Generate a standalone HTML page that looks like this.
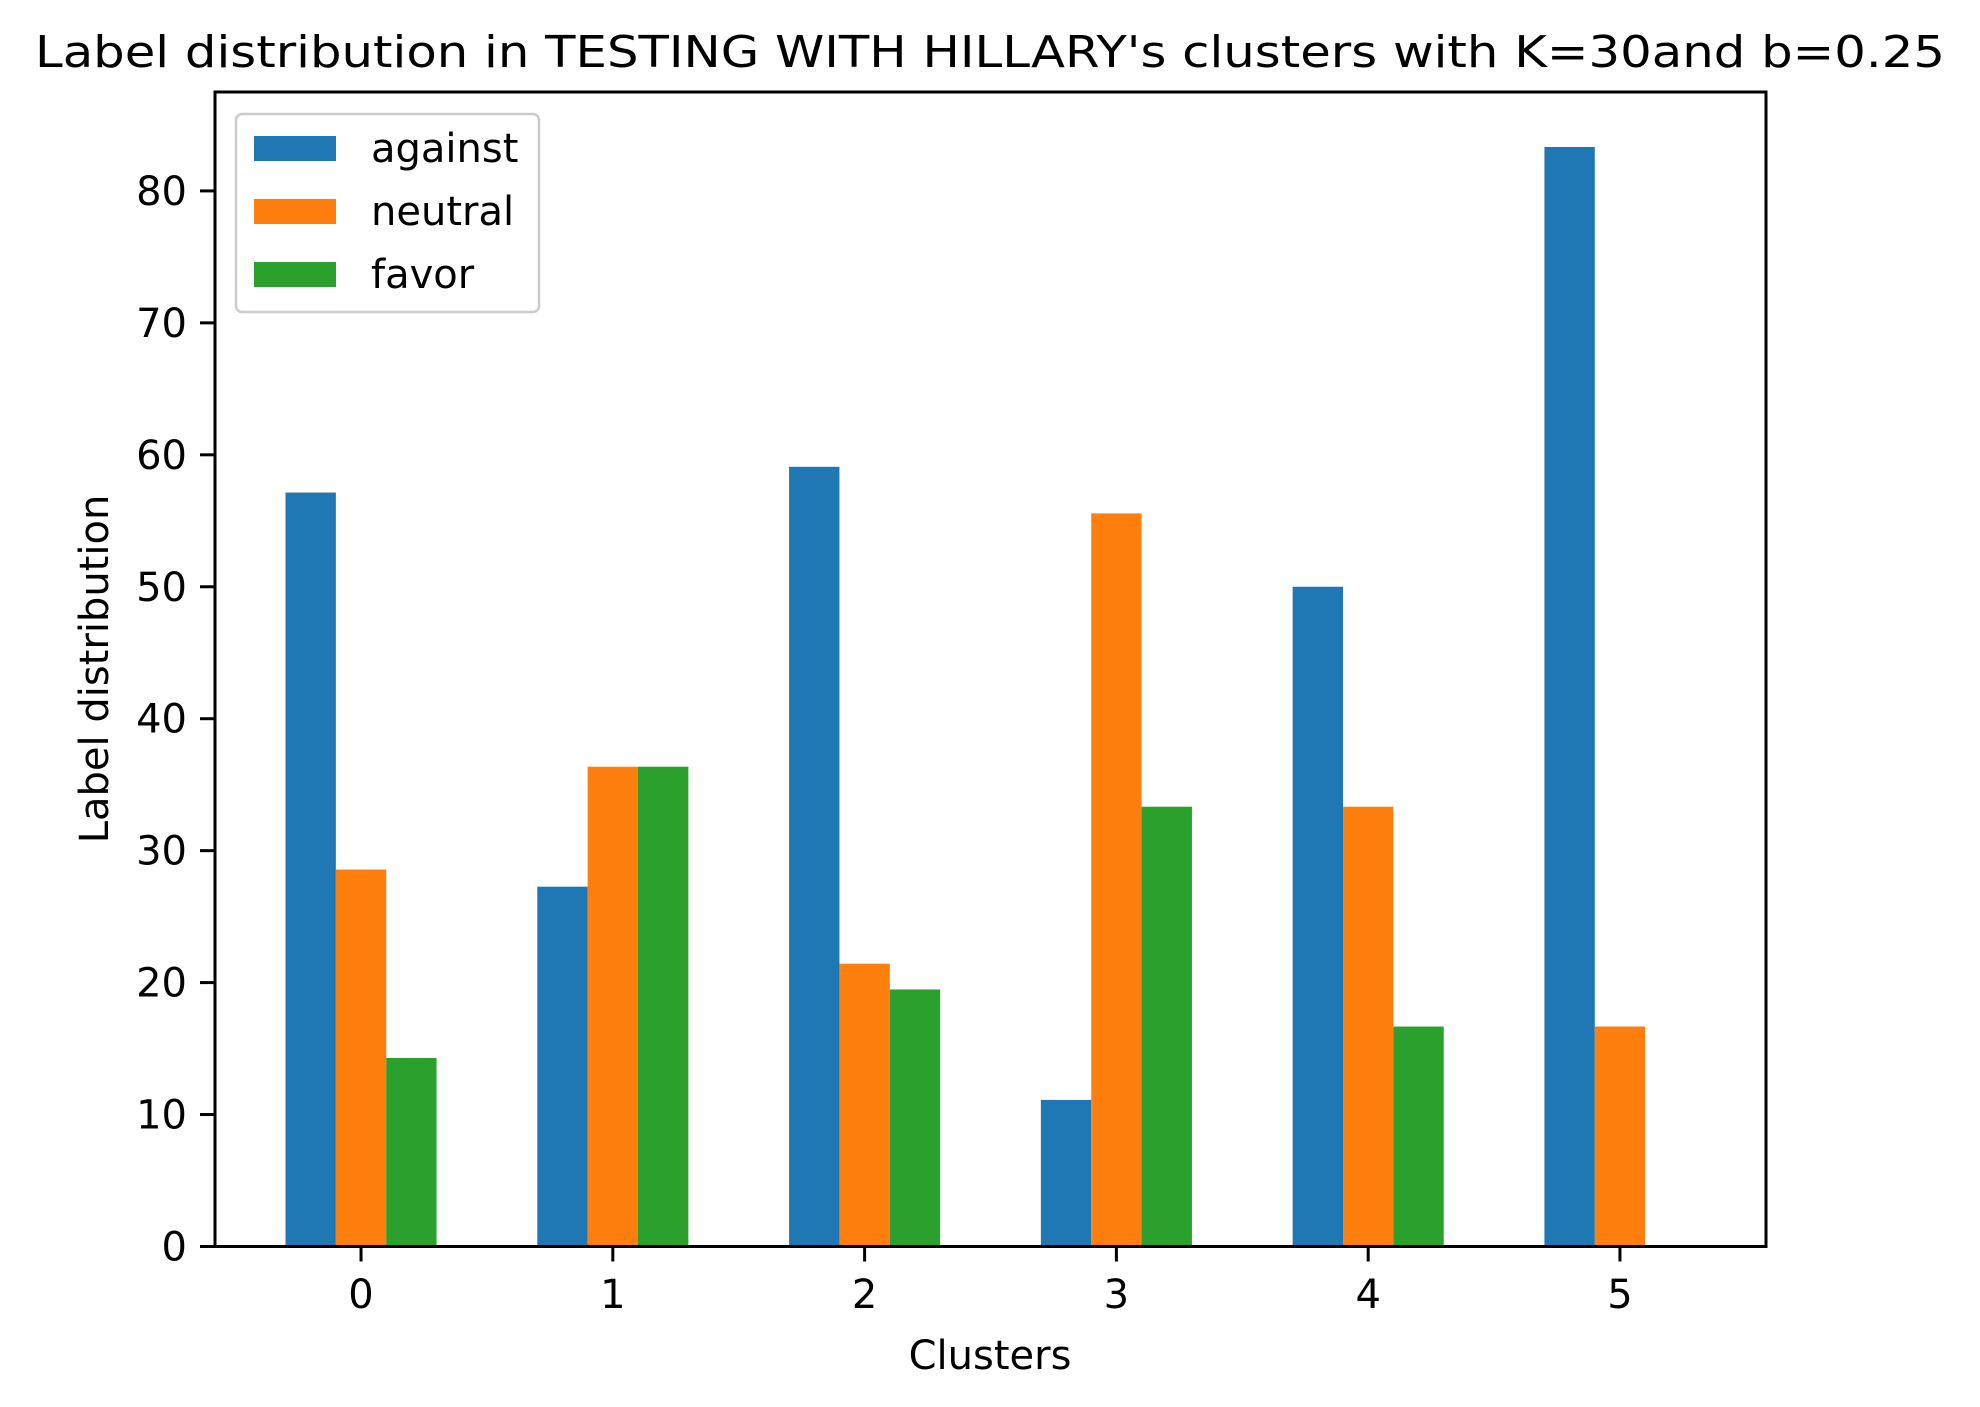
<!DOCTYPE html>
<html><head><meta charset="utf-8"><style>body{margin:0;background:#fff}svg{display:block}text{font-family:"DejaVu Sans","Liberation Sans",sans-serif;fill:#000}</style></head>
<body>
<svg id="chart" width="1980" height="1407" viewBox="0 0 1980 1407" xmlns="http://www.w3.org/2000/svg">
<text x="990" y="67" font-size="44" text-anchor="middle" textLength="1910" lengthAdjust="spacingAndGlyphs">Label distribution in TESTING WITH HILLARY's clusters with K=30and b=0.25</text>
<g id="bars"></g>
<g id="axes"></g>
<text x="990" y="1369" font-size="40" text-anchor="middle">Clusters</text>
<text transform="translate(108,669) rotate(-90)" font-size="40" text-anchor="middle">Label distribution</text>
<g>
<rect x="236" y="114" width="303" height="198" rx="6" fill="#fff" fill-opacity="0.8" stroke="#ccc" stroke-width="2.5"/>
<rect x="254" y="136" width="82" height="25" fill="#1f77b4"/>
<text x="371" y="162" font-size="40">against</text>
<rect x="254" y="199" width="82" height="25" fill="#ff7f0e"/>
<text x="371" y="225" font-size="40">neutral</text>
<rect x="254" y="262" width="82" height="25" fill="#2ca02c"/>
<text x="371" y="288" font-size="40">favor</text>
</g>
</svg>
<script>
const categories=[0,1,2,3,4,5];
const against=[57.14,27.27,59.09,11.11,50.0,83.33];
const neutral=[28.57,36.36,21.43,55.56,33.33,16.67];
const favor=[14.29,36.36,19.48,33.33,16.67,0];
const yTicks=[0,10,20,30,40,50,60,70,80];
const L=215,R=1766,T=92,B=1246.5;
const allVals=against.concat(neutral,favor);
const ymax=Math.max(...allVals)*1.05;
const xmin=-0.3-0.05*(categories.length-1+0.6), xmax=categories.length-1+0.3+0.05*(categories.length-1+0.6);
const xs=v=>L+(v-xmin)/(xmax-xmin)*(R-L);
const ys=v=>B-v/ymax*(B-T);
const NS="http://www.w3.org/2000/svg";
const bars=document.getElementById('bars'),axes=document.getElementById('axes');
function mk(tag,attrs,parent){const e=document.createElementNS(NS,tag);for(const k in attrs)e.setAttribute(k,attrs[k]);parent.appendChild(e);return e;}
const series=[["against",against,"#1f77b4",-0.2],["neutral",neutral,"#ff7f0e",0],["favor",favor,"#2ca02c",0.2]];
series.forEach(([name,vals,col,off])=>{
  vals.forEach((v,i)=>{
    const x0=xs(categories[i]+off-0.1),x1=xs(categories[i]+off+0.1);
    const r=mk('rect',{x:x0,y:ys(v),width:x1-x0,height:B-ys(v),fill:col},bars);
    
    
  });
});
const frame=mk('rect',{x:L,y:T,width:R-L,height:B-T,fill:'none',stroke:'#000','stroke-width':3},axes);


yTicks.forEach(t=>{
  const y=ys(t);
  const l=mk('line',{x1:L-15,x2:L,y1:y,y2:y,stroke:'#000','stroke-width':3},axes);
  
  
  const tx=mk('text',{x:L-28,y:y+14,'font-size':40,'text-anchor':'end'},axes);
  tx.textContent=t;
  
  
});
categories.forEach(c=>{
  const x=xs(c);
  const l=mk('line',{x1:x,x2:x,y1:B,y2:B+15,stroke:'#000','stroke-width':3},axes);
  
  
  const tx=mk('text',{x:x,y:1308,'font-size':40,'text-anchor':'middle'},axes);
  tx.textContent=c;
  
  
});
</script>
</body></html>
